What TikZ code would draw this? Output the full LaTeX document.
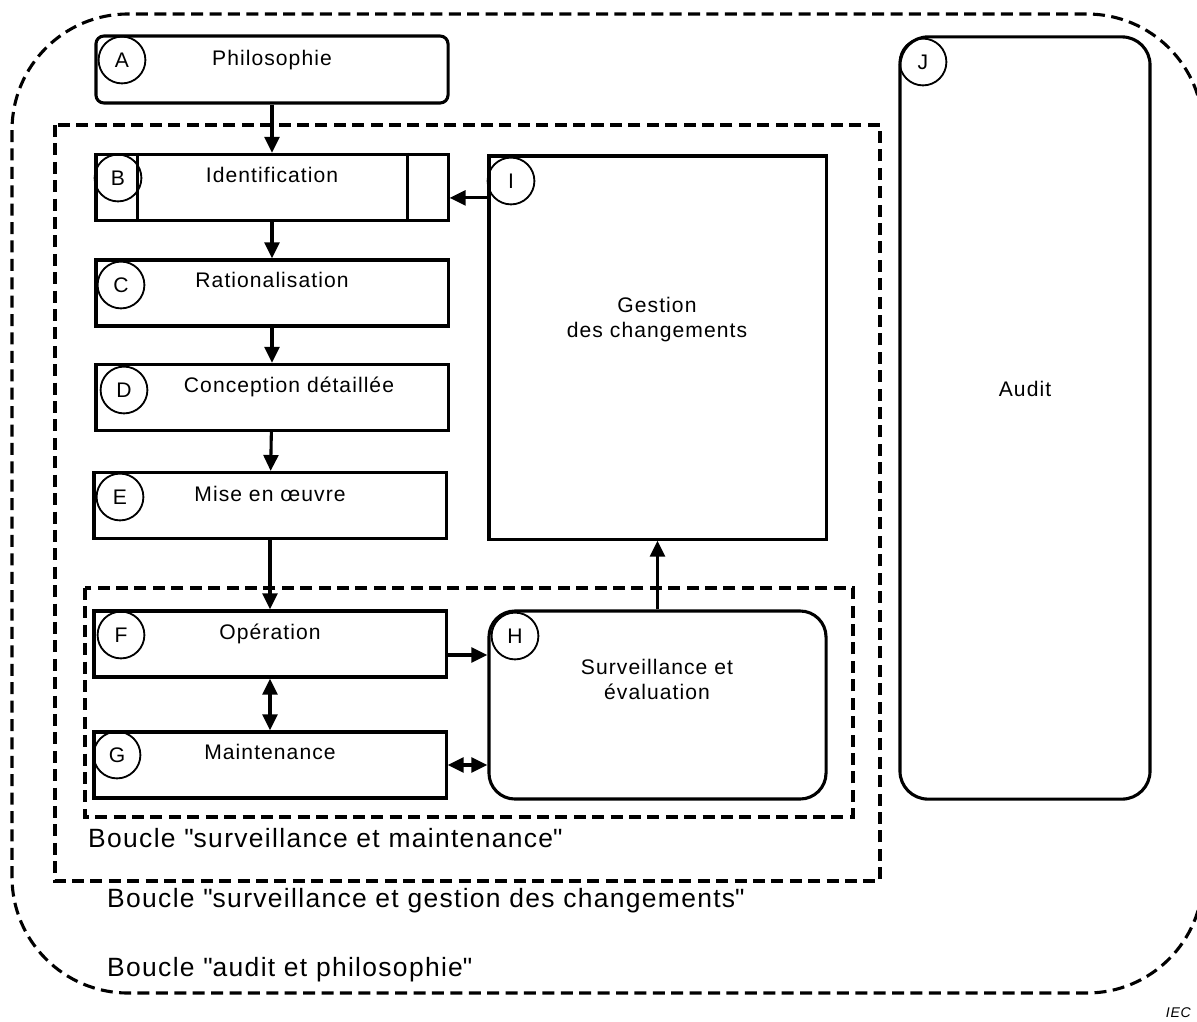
\documentclass[tikz,border=0pt]{standalone}
\usepackage{fontspec}
\setmainfont{Liberation Sans}[LetterSpace=5]
\usetikzlibrary{arrows.meta,positioning,calc}

\begin{document}
\begin{tikzpicture}[x=0.025cm,y=-0.025cm, line width=2.2pt,
  every node/.style={font=\fontsize{15}{17.8}\selectfont},
  box/.style={draw,rectangle,inner sep=0pt,minimum width=8.8cm,minimum height=1.65cm},
  roundbox/.style={draw,rectangle,rounded corners=0.7cm,inner sep=0pt},
  tag/.style={circle,draw,line width=1.3pt,minimum size=1.17cm,inner sep=0pt},
  loopline/.style={dash pattern=on 0.3cm off 0.16cm},
  arr/.style={-{Triangle[length=0.4cm,width=0.37cm]}},
  arrs/.style={{Triangle[length=0.4cm,width=0.37cm]}-{Triangle[length=0.4cm,width=0.37cm]}},
  loopname/.style={anchor=west,font=\fontsize{18.8}{22}\selectfont}]
\useasboundingbox (0,0) rectangle (1197,1021);

% loops
\draw[loopline,rounded corners=2.9cm] (12,14) rectangle (1203,993);
\draw[loopline] (55,125) rectangle (880,881);
\draw[loopline] (85,588) rectangle (853,817);
\node[loopname] (L1) at (82,838) {Boucle \textquotedbl surveillance et maintenance\textquotedbl};
\node[loopname] (L2) at (101,901) {Boucle \textquotedbl surveillance et gestion des changements\textquotedbl};
\node[loopname] (L3) at (101,970) {Boucle \textquotedbl audit et philosophie\textquotedbl};

% steps
\node[box,rounded corners=0.2cm,minimum height=1.675cm] (A) at (272,69.5) {};
\foreach \n/\x/\y in {B/272/187.5,C/272/293,D/272/397.5,E/270/505.5,F/270/644,G/270/765}
  \node[box] (\n) at (\x,\y) {};
\draw ($(B.north west)+(43,0)$) -- ($(B.south west)+(43,0)$);
\draw ($(B.north east)+(-42,0)$) -- ($(B.south east)+(-42,0)$);
\node[roundbox,rounded corners=0.65cm,minimum width=8.425cm,minimum height=4.7cm] (H) at (657.5,705) {};
\node[box,minimum width=8.425cm,minimum height=9.575cm] (I) at (657.5,347.5) {};
\node[roundbox,minimum width=6.25cm,minimum height=19.05cm] (J) at (1025,418) {};

\foreach \n/\t/\dx/\dy in {A/Philosophie/0/31.5,B/Identification/0/29.5,C/Rationalisation/0/29.5,
    D/Conception détaillée/17/29.5,E/Mise en œuvre/0/30.5,F/Opération/0/30.5,G/Maintenance/0/29.5}
  \node[anchor=base] (t\n) at ($(\n.north)+(\dx,\dy)$) {\t};
\node[align=center] (tI) at (657,320) {Gestion\\des changements};
\node[align=center] (tH) at (657,679) {Surveillance et\\évaluation};
\node[anchor=base] (tJ) at (1025,396.5) {Audit};

\foreach \n/\x/\y in {A/122/60,B/118/178,C/121/285,D/124/390,E/120/497,
    F/121/635,G/117/755,H/515/636,I/511/181,J/923/62}
  \node[tag] (c\n) at (\x,\y) {\n};

% links
\draw[arr] (A) -- (B);
\draw[arr] (B) -- (C);
\draw[arr] (C) -- (D);
\draw[arr] (D) -- (E);
\draw[arr] (E) -- (F);
\draw[arrs] (F) -- (G);
\draw[arr] ([yshift=-0.275cm]F.east) -- ([yshift=-0.275cm]F.east -| H.west);
\draw[arrs] (G.east) -- (G.east -| H.west);
\draw[arr] (H) -- (I);
\draw[arr] ([yshift=-0.26cm]B.east -| I.west) -- ([yshift=-0.26cm]B.east);

\node[anchor=east,font=\itshape\fontsize{10}{12}\selectfont] (iec) at (1197,1013) {IEC};
\end{tikzpicture}
\end{document}
